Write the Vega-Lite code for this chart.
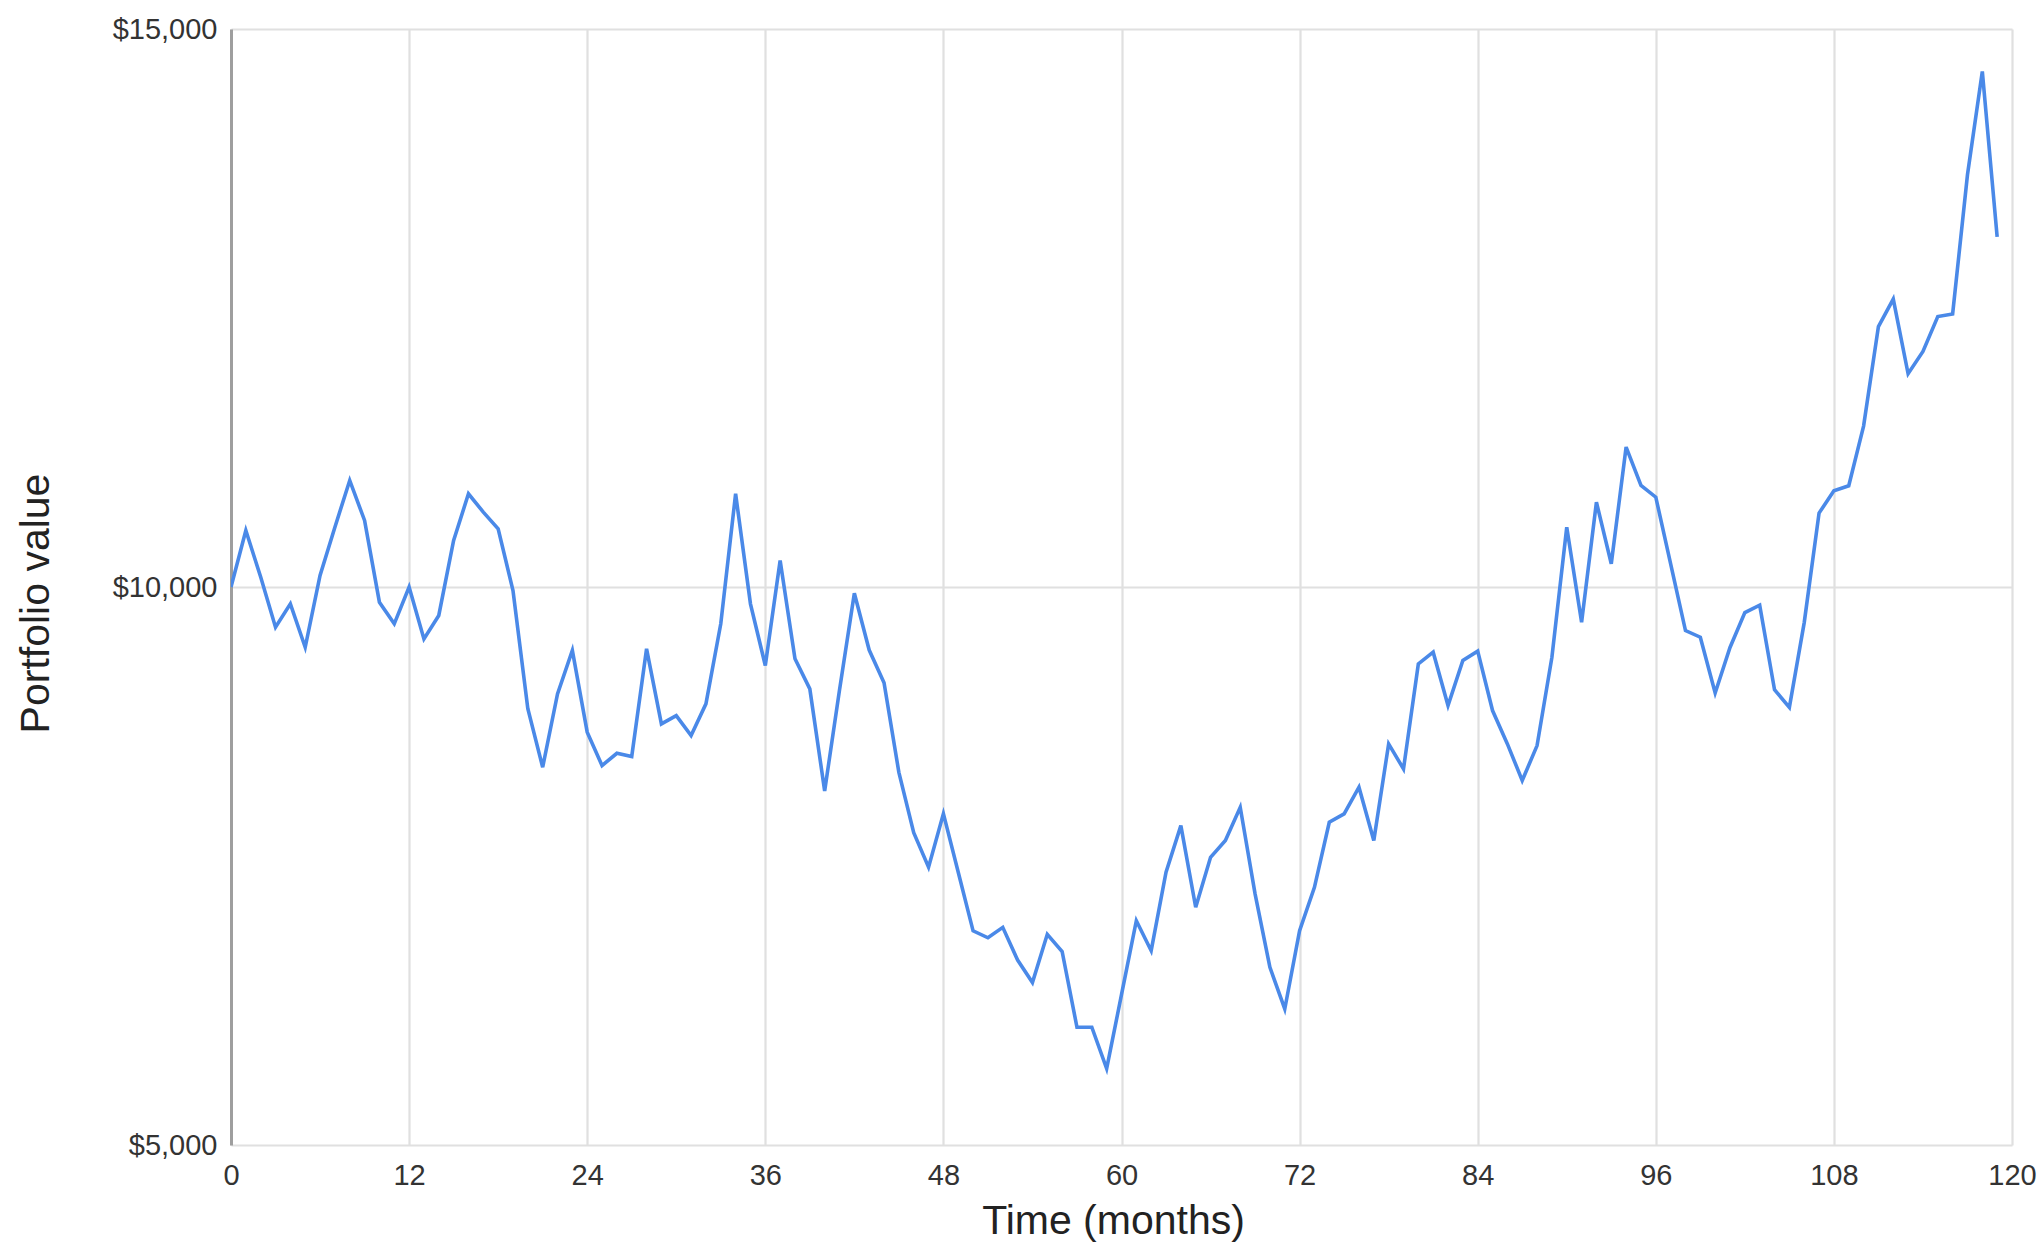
{
  "$schema": "https://vega.github.io/schema/vega-lite/v6.json",
  "autosize": {"type": "none"},
  "padding": {"left": 231, "top": 29, "right": 27, "bottom": 99},
  "width": 1781,
  "height": 1116,
  "background": "white",
  "config": {
    "view": {"stroke": null},
    "font": "Liberation Sans",
    "axis": {"labelFont": "Liberation Sans", "titleFont": "Liberation Sans", "labelColor": "#333333", "titleColor": "#222222", "titleFontWeight": "normal"}
  },
  "data": {
    "values": [
      {"m": 0, "v": 10000}, {"m": 1, "v": 10506}, {"m": 2, "v": 10090}, {"m": 3, "v": 9640}, {"m": 4, "v": 9849},
      {"m": 5, "v": 9460}, {"m": 6, "v": 10103}, {"m": 7, "v": 10536}, {"m": 8, "v": 10955}, {"m": 9, "v": 10596},
      {"m": 10, "v": 9864}, {"m": 11, "v": 9670}, {"m": 12, "v": 10000}, {"m": 13, "v": 9535}, {"m": 14, "v": 9745},
      {"m": 15, "v": 10417}, {"m": 16, "v": 10835}, {"m": 17, "v": 10671}, {"m": 18, "v": 10522}, {"m": 19, "v": 9969},
      {"m": 20, "v": 8910}, {"m": 21, "v": 8385}, {"m": 22, "v": 9042}, {"m": 23, "v": 9431}, {"m": 24, "v": 8699},
      {"m": 25, "v": 8400}, {"m": 26, "v": 8510}, {"m": 27, "v": 8481}, {"m": 28, "v": 9446}, {"m": 29, "v": 8773},
      {"m": 30, "v": 8848}, {"m": 31, "v": 8669}, {"m": 32, "v": 8953}, {"m": 33, "v": 9670}, {"m": 34, "v": 10835},
      {"m": 35, "v": 9849}, {"m": 36, "v": 9297}, {"m": 37, "v": 10238}, {"m": 38, "v": 9357}, {"m": 39, "v": 9087},
      {"m": 40, "v": 8172}, {"m": 41, "v": 9077}, {"m": 42, "v": 9944}, {"m": 43, "v": 9435}, {"m": 44, "v": 9142},
      {"m": 45, "v": 8339}, {"m": 46, "v": 7799}, {"m": 47, "v": 7490}, {"m": 48, "v": 7969}, {"m": 49, "v": 7444},
      {"m": 50, "v": 6919}, {"m": 51, "v": 6857}, {"m": 52, "v": 6950}, {"m": 53, "v": 6657}, {"m": 54, "v": 6456},
      {"m": 55, "v": 6888}, {"m": 56, "v": 6734}, {"m": 57, "v": 6055}, {"m": 58, "v": 6055}, {"m": 59, "v": 5684},
      {"m": 60, "v": 6347}, {"m": 61, "v": 7010}, {"m": 62, "v": 6741}, {"m": 63, "v": 7444}, {"m": 64, "v": 7862},
      {"m": 65, "v": 7130}, {"m": 66, "v": 7578}, {"m": 67, "v": 7728}, {"m": 68, "v": 8026}, {"m": 69, "v": 7250},
      {"m": 70, "v": 6592}, {"m": 71, "v": 6219}, {"m": 72, "v": 6921}, {"m": 73, "v": 7309}, {"m": 74, "v": 7892},
      {"m": 75, "v": 7967}, {"m": 76, "v": 8206}, {"m": 77, "v": 7728}, {"m": 78, "v": 8594}, {"m": 79, "v": 8370},
      {"m": 80, "v": 9311}, {"m": 81, "v": 9416}, {"m": 82, "v": 8938}, {"m": 83, "v": 9341}, {"m": 84, "v": 9425},
      {"m": 85, "v": 8893}, {"m": 86, "v": 8594}, {"m": 87, "v": 8266}, {"m": 88, "v": 8579}, {"m": 89, "v": 9371},
      {"m": 90, "v": 10536}, {"m": 91, "v": 9685}, {"m": 92, "v": 10760}, {"m": 93, "v": 10208}, {"m": 94, "v": 11254},
      {"m": 95, "v": 10910}, {"m": 96, "v": 10805}, {"m": 97, "v": 10208}, {"m": 98, "v": 9610}, {"m": 99, "v": 9550},
      {"m": 100, "v": 9050}, {"m": 101, "v": 9458}, {"m": 102, "v": 9770}, {"m": 103, "v": 9837}, {"m": 104, "v": 9079},
      {"m": 105, "v": 8922}, {"m": 106, "v": 9681}, {"m": 107, "v": 10662}, {"m": 108, "v": 10862}, {"m": 109, "v": 10907},
      {"m": 110, "v": 11442}, {"m": 111, "v": 12334}, {"m": 112, "v": 12580}, {"m": 113, "v": 11911}, {"m": 114, "v": 12111},
      {"m": 115, "v": 12423}, {"m": 116, "v": 12446}, {"m": 117, "v": 13694}, {"m": 118, "v": 14620}, {"m": 119, "v": 13137}
    ]
  },
  "mark": {"type": "line", "color": "#4a89e8", "strokeWidth": 3.6, "clip": true},
  "encoding": {
    "x": {
      "field": "m",
      "type": "quantitative",
      "scale": {"domain": [0, 120], "nice": false, "zero": false},
      "axis": {
        "title": "Time (months)",
        "values": [0, 12, 24, 36, 48, 60, 72, 84, 96, 108, 120],
        "grid": true,
        "gridColor": "#e0e0e0",
        "gridWidth": 2.2,
        "domain": false,
        "ticks": false,
        "labelFontSize": 29,
        "labelPadding": 16,
        "labelFlush": false,
        "labelOverlap": false,
        "titleFontSize": 41,
        "titleBaseline": "middle",
        "titleAnchor": null,
        "titleX": 882,
        "titleY": 76
      }
    },
    "y": {
      "field": "v",
      "type": "quantitative",
      "scale": {"domain": [5000, 15000], "nice": false, "zero": false},
      "axis": {
        "title": "Portfolio value",
        "values": [5000, 10000, 15000],
        "format": "$,.0f",
        "grid": true,
        "gridColor": "#e0e0e0",
        "gridWidth": 2.2,
        "domain": true,
        "domainColor": "#9e9e9e",
        "domainWidth": 3,
        "ticks": false,
        "labelFontSize": 29,
        "labelPadding": 14,
        "labelFlush": false,
        "labelOverlap": false,
        "titleFontSize": 41,
        "titleAngle": -90,
        "titleBaseline": "middle",
        "titleAlign": "center",
        "titleX": -195,
        "titleY": 574
      }
    }
  }
}
